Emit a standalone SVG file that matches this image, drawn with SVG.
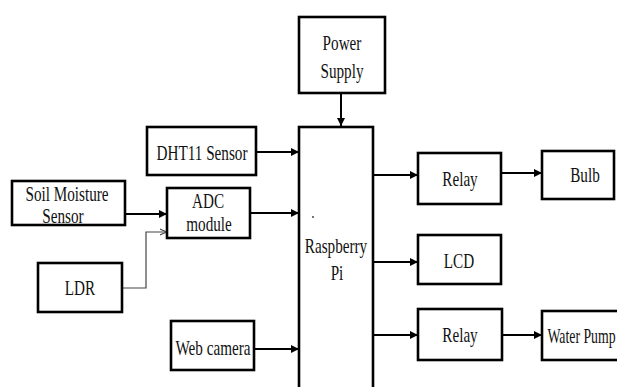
<svg xmlns="http://www.w3.org/2000/svg" width="617" height="387" viewBox="0 0 617 387">
<defs>
<style>
.box{fill:#fff;stroke:#000;stroke-width:2.6}
.c{fill:none;stroke:#000;stroke-width:2;marker-end:url(#ah)}
.thin{fill:none;stroke:#444;stroke-width:1.2;marker-end:url(#ah2)}
text{font-family:'Liberation Serif','Times New Roman',serif;font-size:20px;fill:#111;text-anchor:middle}
</style>
<marker id="ah" viewBox="0 0 10 10" refX="10" refY="5" markerWidth="4" markerHeight="4" orient="auto" markerUnits="strokeWidth">
<path d="M0,0 L10,5 L0,10 z" fill="#000"/>
</marker>
<marker id="ah2" viewBox="0 0 10 10" refX="10" refY="5" markerWidth="6" markerHeight="6" orient="auto" markerUnits="strokeWidth">
<path d="M0,1 L10,5 L0,9" fill="none" stroke="#444" stroke-width="1.5"/>
</marker>
</defs>
<rect width="617" height="387" fill="#fff"/>
<g id="connectors">
<path class="c" d="M341,93 V126"/>
<path class="c" d="M256,152 H299"/>
<path class="c" d="M125,214 H167"/>
<path class="c" d="M250,213 H299"/>
<path class="thin" d="M122,288 H146 V232 H167"/>
<path class="c" d="M254,349 H299"/>
<path class="c" d="M373,175 H418"/>
<path class="c" d="M501,173 H542"/>
<path class="c" d="M373,262 H418"/>
<path class="c" d="M373,335 H418"/>
<path class="c" d="M502,335 H542"/>
</g>
<g id="power-supply">
<rect class="box" x="299" y="17" width="86" height="76"/>
<text transform="translate(342 50) scale(0.76 1)">Power</text>
<text transform="translate(342 78) scale(0.76 1)">Supply</text>
</g>
<g id="raspberry-pi">
<rect class="box" x="299" y="127" width="74" height="280"/>
<circle cx="313" cy="217" r="0.9" fill="#333"/>
<text transform="translate(336 253) scale(0.76 1)">Raspberry</text>
<text transform="translate(337 280) scale(0.76 1)">Pi</text>
</g>
<g id="dht11">
<rect class="box" x="147" y="127" width="109" height="48"/>
<text transform="translate(202 160) scale(0.76 1)">DHT11 Sensor</text>
</g>
<g id="soil-moisture">
<rect class="box" x="12" y="181" width="113" height="44"/>
<text transform="translate(67 201) scale(0.76 1)">Soil Moisture</text>
<text transform="translate(63 223) scale(0.76 1)">Sensor</text>
</g>
<g id="adc">
<rect class="box" x="167" y="188" width="83" height="50"/>
<text transform="translate(208 208) scale(0.76 1)">ADC</text>
<text transform="translate(209 231) scale(0.76 1)">module</text>
</g>
<g id="ldr">
<rect class="box" x="38" y="263" width="84" height="49"/>
<text transform="translate(80 295) scale(0.76 1)">LDR</text>
</g>
<g id="web-camera">
<rect class="box" x="171" y="321" width="83" height="49"/>
<text transform="translate(213 355) scale(0.76 1)">Web camera</text>
</g>
<g id="relay1">
<rect class="box" x="418" y="153" width="83" height="51"/>
<text transform="translate(460 186) scale(0.76 1)">Relay</text>
</g>
<g id="bulb">
<rect class="box" x="542" y="151" width="72" height="48"/>
<text transform="translate(585 182) scale(0.76 1)">Bulb</text>
</g>
<g id="lcd">
<rect class="box" x="418" y="235" width="83" height="49"/>
<text transform="translate(459 268) scale(0.76 1)">LCD</text>
</g>
<g id="relay2">
<rect class="box" x="418" y="309" width="84" height="51"/>
<text transform="translate(460 342) scale(0.76 1)">Relay</text>
</g>
<g id="water-pump">
<rect class="box" x="542" y="311" width="100" height="49"/>
<text transform="translate(581.5 343) scale(0.69 1)">Water Pump</text>
</g>
</svg>
